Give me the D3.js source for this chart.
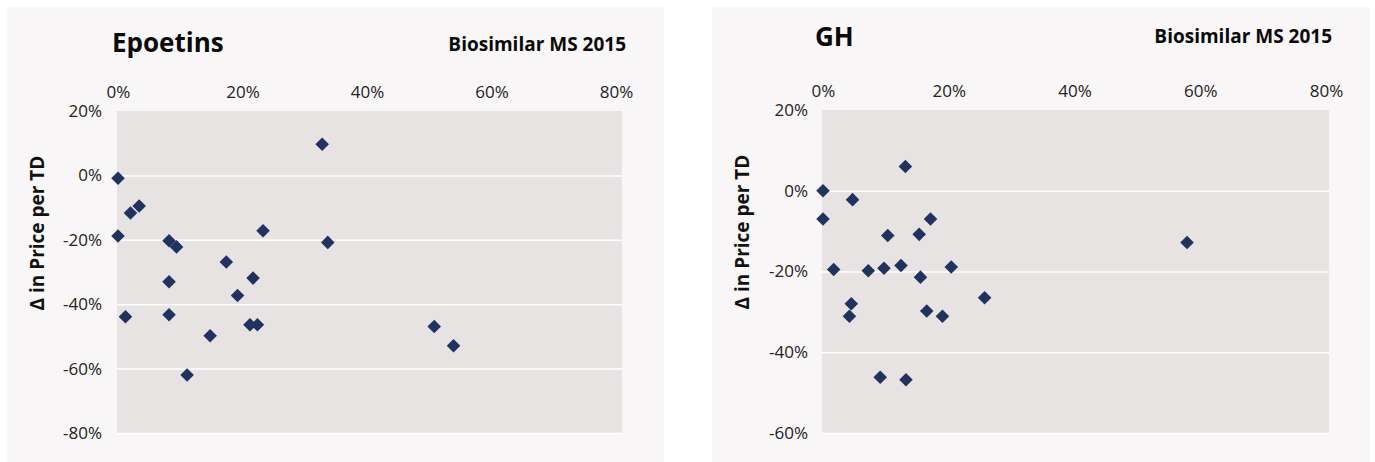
<!DOCTYPE html>
<html>
<head>
<meta charset="utf-8">
<script src="https://cdn.jsdelivr.net/npm/d3@7"></script>
<style>
  body { margin: 0; background: #fff; }
  svg { display: block; font-family: "Open Sans", "Noto Sans", sans-serif; }
</style>
</head>
<body>
<svg width="1375" height="462"></svg>
<script>
// market share of biosimilars (x) vs change in price per treatment day (y)
const xTicks = [0, 0.2, 0.4, 0.6, 0.8];

const epoX = [0.0, 0.020, 0.034, 0.0, 0.082, 0.094, 0.233, 0.337, 0.328, 0.174, 0.082,
  0.217, 0.192, 0.012, 0.082, 0.212, 0.224, 0.148, 0.111, 0.508, 0.539];
const epoY = [-0.009, -0.117, -0.095, -0.188, -0.203, -0.222, -0.172, -0.208, 0.097, -0.269, -0.330,
  -0.319, -0.373, -0.439, -0.433, -0.464, -0.464, -0.498, -0.620, -0.469, -0.529];
const epoYTicks = [0.2, 0, -0.2, -0.4, -0.6, -0.8];

const ghX = [0.0, 0.0, 0.047, 0.131, 0.171, 0.103, 0.153, 0.017, 0.072, 0.097, 0.124,
  0.155, 0.204, 0.257, 0.045, 0.042, 0.165, 0.190, 0.091, 0.132, 0.579];
const ghY = [0.0, -0.070, -0.022, 0.060, -0.070, -0.111, -0.108, -0.195, -0.198, -0.192, -0.185,
  -0.214, -0.189, -0.265, -0.280, -0.311, -0.298, -0.311, -0.462, -0.468, -0.128];
const ghYTicks = [0.2, 0, -0.2, -0.4, -0.6];

const svg = d3.select("svg");
// plain hyphen like the original, not the unicode minus
const pct = (v) => Math.round(v * 100) + "%";

function drawPanel(p) {
  const g = svg.append("g");

  g.append("rect")
    .attr("x", p.box[0]).attr("y", p.box[1])
    .attr("width", p.box[2]).attr("height", p.box[3])
    .attr("fill", "#f8f6f6");

  const x = d3.scaleLinear().domain([0, 0.8]).range(p.xRange);
  const y = d3.scaleLinear().domain(d3.extent(p.yTicks)).range(p.yRange);

  g.append("rect")
    .attr("x", p.plot[0]).attr("y", y(d3.max(p.yTicks)))
    .attr("width", p.plot[1] - p.plot[0])
    .attr("height", y(d3.min(p.yTicks)) - y(d3.max(p.yTicks)))
    .attr("fill", "#e7e3e2");

  // gridlines
  g.selectAll(".grid")
    .data(p.yTicks.filter((t) => t < d3.max(p.yTicks)))
    .enter()
    .append("line")
    .attr("x1", p.plot[0]).attr("x2", p.plot[1])
    .attr("y1", (d) => y(d) + 0.5).attr("y2", (d) => y(d) + 0.5)
    .attr("stroke", "#fff")
    .attr("stroke-width", 1.5);

  // top x axis
  const ax = g.append("g")
    .attr("transform", `translate(0,${p.xLabelY})`)
    .call(d3.axisTop(x).tickValues(xTicks).tickFormat(pct).tickSize(0).tickPadding(0));
  ax.select(".domain").remove();
  ax.selectAll("text")
    .attr("font-size", 17).attr("fill", "#222")
    .attr("font-family", "Open Sans").attr("dy", 0);

  // left y axis
  const ay = g.append("g")
    .attr("transform", `translate(${p.yLabelX},0)`)
    .call(d3.axisLeft(y).tickValues(p.yTicks).tickFormat(pct).tickSize(0).tickPadding(0));
  ay.select(".domain").remove();
  ay.selectAll("text")
    .attr("font-size", 17).attr("fill", "#222")
    .attr("font-family", "Open Sans");

  g.append("text")
    .attr("transform", `translate(${p.titleY[0]},${p.titleY[1]}) rotate(-90)`)
    .attr("text-anchor", "middle")
    .attr("font-size", 19).attr("font-weight", "bold").attr("fill", "#111")
    .text("Δ in Price per TD");

  g.append("text")
    .attr("x", p.title[0]).attr("y", p.title[1])
    .attr("font-size", 26).attr("font-weight", "bold").attr("fill", "#0a0a0a")
    .text(p.name);

  g.append("text")
    .attr("x", p.sub[0]).attr("y", p.sub[1])
    .attr("text-anchor", "end")
    .attr("font-size", 19).attr("font-weight", "bold").attr("fill", "#0a0a0a")
    .text("Biosimilar MS 2015");

  g.selectAll(".pt")
    .data(d3.zip(p.xs, p.ys))
    .enter()
    .append("path")
    .attr("d", d3.symbol(d3.symbolSquare, 92))
    .attr("transform", (d) => `translate(${x(d[0])},${y(d[1])}) rotate(45)`)
    .attr("fill", "#22325f");
}

drawPanel({
  name: "Epoetins", xs: epoX, ys: epoY, yTicks: epoYTicks,
  box: [7, 7, 657, 455], plot: [117, 622],
  xRange: [118, 616], yRange: [433, 111],
  xLabelY: 98, yLabelX: 102,
  titleY: [44, 233], title: [112, 52], sub: [626, 51]
});

drawPanel({
  name: "GH", xs: ghX, ys: ghY, yTicks: ghYTicks,
  box: [712, 7, 658, 455], plot: [822, 1329],
  xRange: [823, 1326], yRange: [433, 110],
  xLabelY: 97, yLabelX: 808,
  titleY: [749, 232], title: [815, 46], sub: [1332, 43]
});
</script>
</body>
</html>
